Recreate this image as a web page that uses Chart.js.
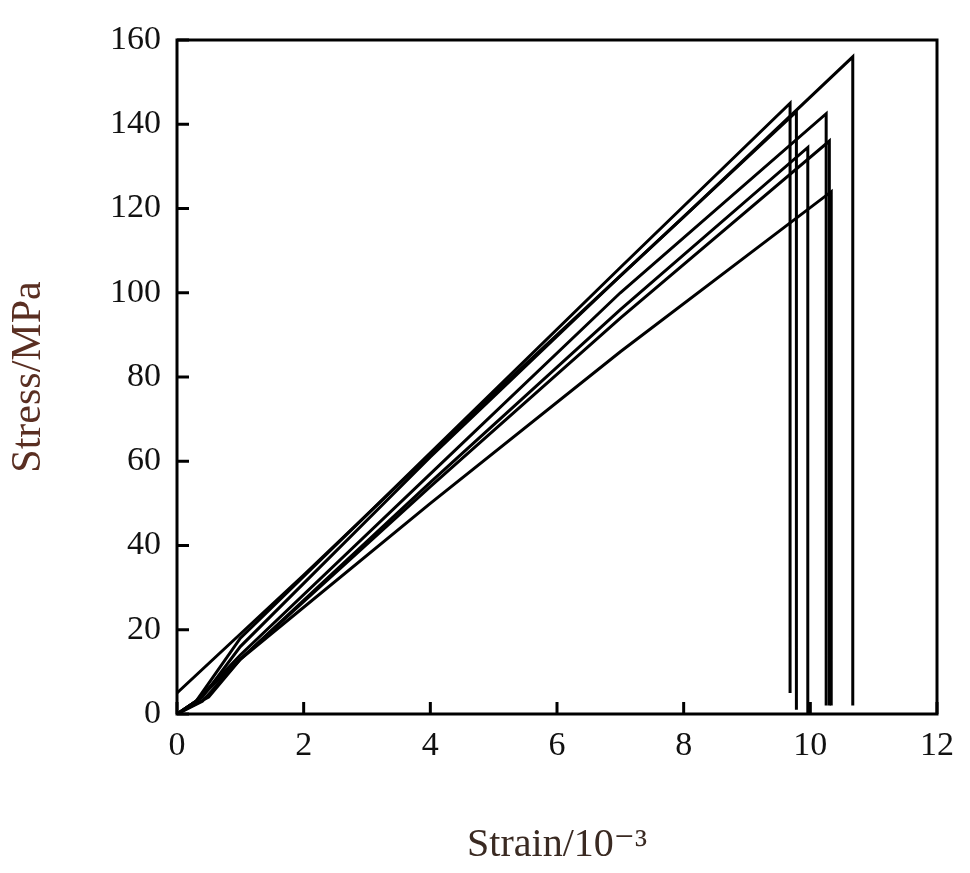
<!DOCTYPE html>
<html>
<head>
<meta charset="utf-8">
<script src="https://cdn.jsdelivr.net/npm/chart.js@4"></script>
<style>
  html, body { margin: 0; padding: 0; background: #fff; }
  #wrap { width: 970px; height: 873px; }
</style>
</head>
<body>
<div id="wrap"><canvas id="c"></canvas></div>
<script>
// stress-strain curves (strain in 10^-3, stress in MPa)
const curveA = [{x:0,y:5},{x:2,y:33},{x:5,y:76},{x:8,y:118},{x:10.67,y:156},{x:10.67,y:2}];
const curveB = [{x:0,y:0},{x:0.3,y:3},{x:1,y:18},{x:4,y:62},{x:7,y:106},{x:9.68,y:145},{x:9.68,y:5}];
const curveC = [{x:0,y:0},{x:0.4,y:4},{x:1,y:16},{x:4,y:61},{x:7,y:104},{x:9.78,y:143},{x:9.78,y:1}];
const curveD = [{x:0,y:0},{x:0.3,y:3},{x:1,y:14},{x:4,y:57},{x:7,y:100},{x:10.25,y:142.5},{x:10.25,y:2}];
const curveE = [{x:0,y:0},{x:0.5,y:4},{x:1,y:13},{x:4,y:54},{x:7,y:94},{x:10.3,y:136},{x:10.3,y:2}];
const curveF = [{x:0,y:0},{x:0.4,y:3},{x:1,y:13},{x:4,y:55},{x:7,y:96},{x:9.96,y:134.5},{x:9.96,y:0}];
const curveG = [{x:0,y:0},{x:0.3,y:3},{x:1,y:13},{x:4,y:50},{x:7,y:86},{x:10.33,y:124},{x:10.33,y:2}];
const curves = [curveA, curveB, curveC, curveD, curveE, curveF, curveG];

const serif = "'Liberation Serif', 'DejaVu Serif', serif";

// inward ticks + frame
const frame = {
  id: "frame",
  afterDraw(chart) {
    const { ctx, chartArea: a, scales } = chart;
    ctx.save();
    ctx.strokeStyle = "#000";
    ctx.lineWidth = 3;
    ctx.strokeRect(a.left, a.top, a.right - a.left, a.bottom - a.top);
    scales.x.ticks.forEach((t) => {
      const px = scales.x.getPixelForValue(t.value);
      ctx.beginPath(); ctx.moveTo(px, a.bottom); ctx.lineTo(px, a.bottom - 12); ctx.stroke();
    });
    scales.y.ticks.forEach((t) => {
      const py = scales.y.getPixelForValue(t.value);
      ctx.beginPath(); ctx.moveTo(a.left, py); ctx.lineTo(a.left + 12, py); ctx.stroke();
    });
    ctx.restore();
  },
};

new Chart(document.getElementById("c"), {
  type: "scatter",
  data: {
    datasets: curves.map((d) => ({
      data: d,
      showLine: true,
      pointRadius: 0,
      borderColor: "#000",
      borderWidth: 3,
      fill: false,
      tension: 0,
    })),
  },
  options: {
    responsive: true,
    maintainAspectRatio: false,
    animation: false,
    layout: { padding: { top: 40, right: 33, left: 0, bottom: 0 } },
    plugins: { legend: { display: false }, tooltip: { enabled: false } },
    scales: {
      x: {
        type: "linear", min: 0, max: 12,
        ticks: { stepSize: 2, color: "#111", font: { family: serif, size: 34 }, padding: 4 },
        grid: { display: false },
        border: { display: false },
        title: { display: true, text: "Strain/10⁻³", color: "#3a2a22", font: { family: serif, size: 40 }, padding: { top: 10 } },
        afterFit(s) { s.height = 159; },
      },
      y: {
        type: "linear", min: 0, max: 160,
        ticks: { stepSize: 20, color: "#111", font: { family: serif, size: 34 }, padding: 8 },
        grid: { display: false },
        border: { display: false },
        title: { display: true, text: "Stress/MPa", color: "#5a2f22", font: { family: serif, size: 42 }, padding: { bottom: 2 } },
        afterFit(s) { s.width = 177; },
      },
    },
  },
  plugins: [frame],
});
</script>
</body>
</html>
